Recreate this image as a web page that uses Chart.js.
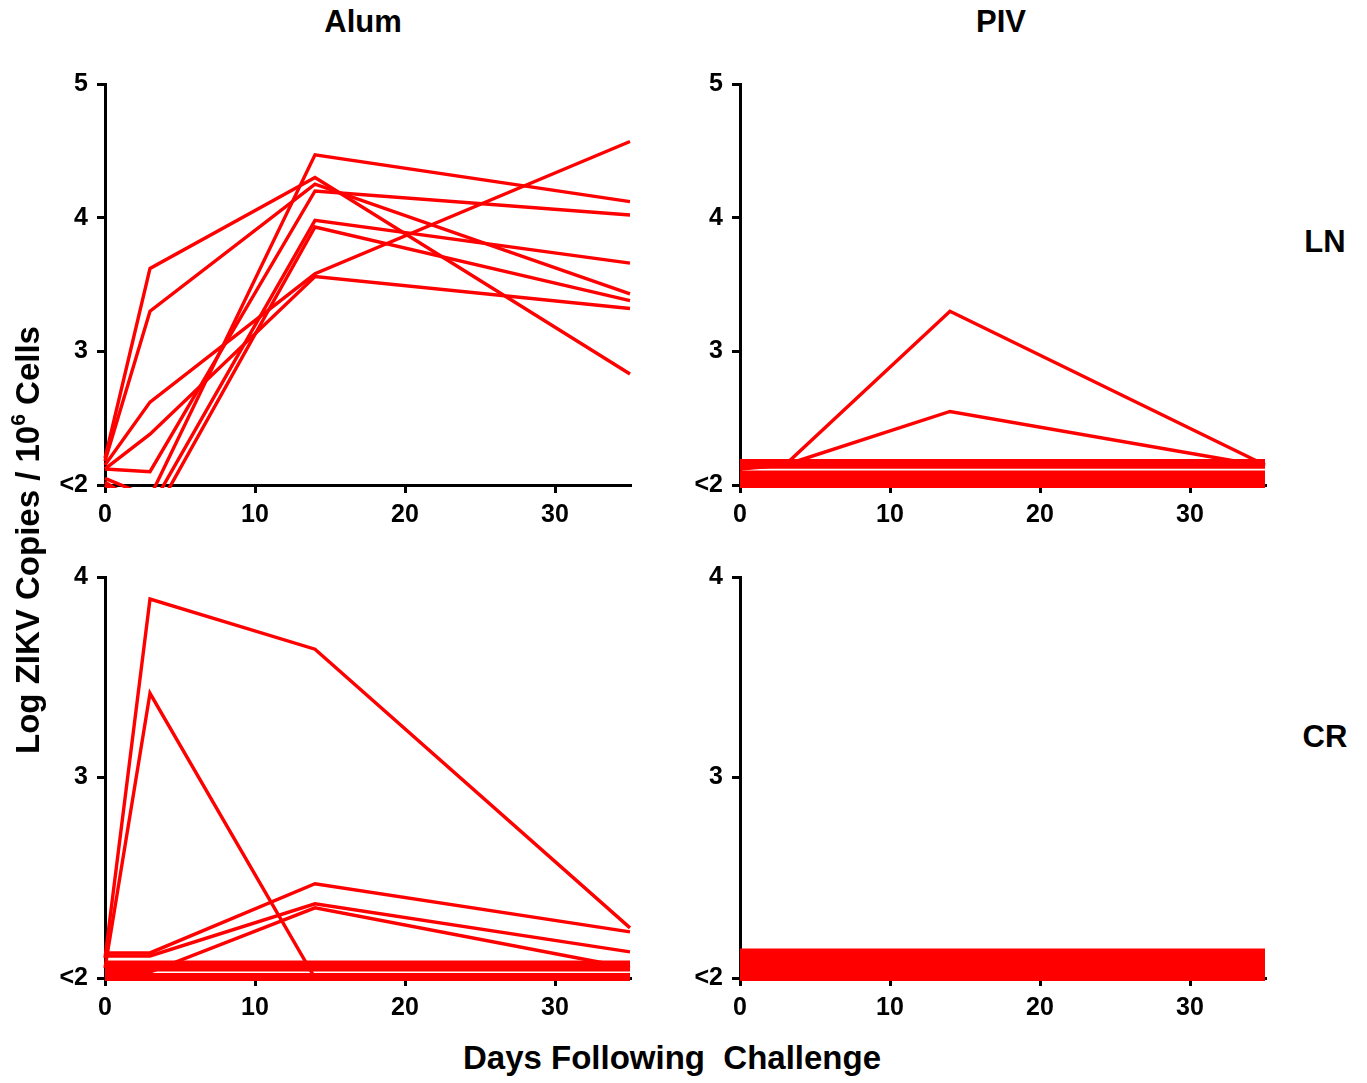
<!DOCTYPE html>
<html>
<head>
<meta charset="utf-8">
<script src="https://cdn.jsdelivr.net/npm/chart.js@4/dist/chart.umd.min.js"></script>
<style>
  html, body { margin:0; padding:0; background:#fff; }
  body { width:1367px; height:1083px; position:relative; overflow:hidden; font-family:"Liberation Sans", Arial, sans-serif; }
  canvas { position:absolute; }
  .lbl { position:absolute; transform:translate(-50%,-50%); font-weight:bold; color:#000; white-space:nowrap; }
</style>
</head>
<body>
<canvas id="tl" width="660" height="480" style="left:0px;top:60px"></canvas>
<canvas id="tr" width="660" height="480" style="left:635px;top:60px"></canvas>
<canvas id="bl" width="660" height="480" style="left:0px;top:553px"></canvas>
<canvas id="br" width="660" height="480" style="left:635px;top:553px"></canvas>

<div class="lbl" style="left:363px;top:22px;font-size:31px">Alum</div>
<div class="lbl" style="left:1001px;top:22px;font-size:31px">PIV</div>
<div class="lbl" style="left:1325px;top:242px;font-size:31px">LN</div>
<div class="lbl" style="left:1325px;top:737px;font-size:31px">CR</div>
<div class="lbl" style="left:672px;top:1058px;font-size:33px">Days Following&nbsp; Challenge</div>
<div class="lbl" style="left:28px;top:540px;font-size:33px;transform:translate(-50%,-50%) rotate(-90deg)">Log ZIKV Copies / 10<sup style="font-size:21px;vertical-align:14px;line-height:0">6</sup> Cells</div>

<script>
// ---- data ----
const days = [0, 3, 14, 35];
const xTickValues = [0, 10, 20, 30];
const lnTickValues = [2, 3, 4, 5];
const crTickValues = [2, 3, 4];

// Alum, LN (log copies at days 0, 3, 14, 35)
const alumLN1 = [2.20, 3.62, 4.30, 2.83];
const alumLN2 = [2.18, 3.30, 4.25, 3.43];
const alumLN3 = [2.15, 2.62, 3.58, 4.57];
const alumLN4 = [2.12, 2.38, 3.56, 3.32];
const alumLN5 = [2.12, 2.10, 4.20, 4.02];
const alumLN6 = [2.05, 1.91, 4.47, 4.12];
const alumLN7 = [2.02, 1.82, 3.98, 3.66];
const alumLN8 = [2.00, 1.72, 3.93, 3.38];

// PIV, LN
const pivLN1 = [2.15, 2.15, 3.30, 2.15];
const pivLN2 = [2.12, 2.15, 2.55, 2.14];
const pivLN3 = [2.175, 2.175, 2.175, 2.175];
const pivLN4 = [2.14, 2.14, 2.14, 2.14];
const pivLN5 = [2.09, 2.09, 2.09, 2.09];
const pivLN6 = [2.065, 2.065, 2.065, 2.065];
const pivLN7 = [2.04, 2.04, 2.04, 2.04];
const pivLN8 = [2.015, 2.015, 2.015, 2.015];
const pivLN9 = [1.995, 1.995, 1.995, 1.995];

// Alum, CR
const alumCR1 = [2.10, 3.89, 3.64, 2.25];
const alumCR2 = [2.05, 3.42, 2.00, 2.00];
const alumCR3 = [2.125, 2.125, 2.47, 2.23];
const alumCR4 = [2.11, 2.11, 2.37, 2.13];
const alumCR5 = [2.03, 2.03, 2.35, 2.05];
const alumCR6 = [2.075, 2.075, 2.075, 2.075];
const alumCR7 = [2.055, 2.055, 2.055, 2.055];
const alumCR8 = [2.045, 2.045, 2.045, 2.045];
const alumCR9 = [2.012, 2.012, 2.012, 2.012];
const alumCR10 = [1.995, 1.995, 1.995, 1.995];

// PIV, CR
const pivCR1 = [2.135, 2.135, 2.135, 2.135];
const pivCR2 = [2.115, 2.115, 2.115, 2.115];
const pivCR3 = [2.095, 2.095, 2.095, 2.095];
const pivCR4 = [2.075, 2.075, 2.075, 2.075];
const pivCR5 = [2.055, 2.055, 2.055, 2.055];
const pivCR6 = [2.035, 2.035, 2.035, 2.035];
const pivCR7 = [2.015, 2.015, 2.015, 2.015];
const pivCR8 = [1.998, 1.998, 1.998, 1.998];

// ---- charts ----
const FONT = "'Liberation Sans', Arial, sans-serif";
function isFlat(s) { return s.every(v => v === s[0]); }
function makeChart(id, series, yMin, yMax, yTicks) {
  const datasets = series.map(s => ({
    data: s.map((v, i) => ({ x: days[i], y: v })),
    borderColor: '#ff0000',
    borderWidth: isFlat(s) ? 5 : 3.4,
    pointRadius: 0,
    tension: 0,
    fill: false,
    clip: 3
  }));
  new Chart(document.getElementById(id), {
    type: 'line',
    data: { datasets },
    options: {
      animation: false,
      responsive: false,
      maintainAspectRatio: false,
      events: [],
      plugins: { legend: { display: false }, tooltip: { enabled: false } },
      layout: { padding: { top: 23, right: 30, left: 0, bottom: 0 } },
      scales: {
        x: {
          type: 'linear', min: 0, max: 35,
          afterBuildTicks: s => { s.ticks = xTickValues.map(v => ({ value: v })); },
          afterFit: s => { s.height = 55; },
          grid: { display: true, drawOnChartArea: false, drawTicks: true, tickLength: 8, lineWidth: 3, color: '#000' },
          border: { display: true, color: '#000', width: 3 },
          ticks: { color: '#000', padding: 7, maxRotation: 0, autoSkip: false, font: { family: FONT, size: 25, weight: 'bold' } }
        },
        y: {
          type: 'linear', min: yMin, max: yMax,
          afterBuildTicks: s => { s.ticks = yTicks.map(v => ({ value: v })); },
          afterFit: s => { s.width = 105; },
          grid: { display: true, drawOnChartArea: false, drawTicks: true, tickLength: 8, lineWidth: 3, color: '#000' },
          border: { display: true, color: '#000', width: 3 },
          ticks: { color: '#000', padding: 9, autoSkip: false, font: { family: FONT, size: 25, weight: 'bold' },
                   callback: v => (v === 2 ? '<2' : String(v)) }
        }
      }
    }
  });
}

makeChart('tl', [alumLN1, alumLN2, alumLN3, alumLN4, alumLN5, alumLN6, alumLN7, alumLN8], 2, 5, lnTickValues);
makeChart('tr', [pivLN3, pivLN4, pivLN5, pivLN6, pivLN7, pivLN8, pivLN9, pivLN1, pivLN2], 2, 5, lnTickValues);
makeChart('bl', [alumCR6, alumCR7, alumCR8, alumCR9, alumCR10, alumCR1, alumCR2, alumCR3, alumCR4, alumCR5], 2, 4, crTickValues);
makeChart('br', [pivCR1, pivCR2, pivCR3, pivCR4, pivCR5, pivCR6, pivCR7, pivCR8], 2, 4, crTickValues);
</script>
</body>
</html>
